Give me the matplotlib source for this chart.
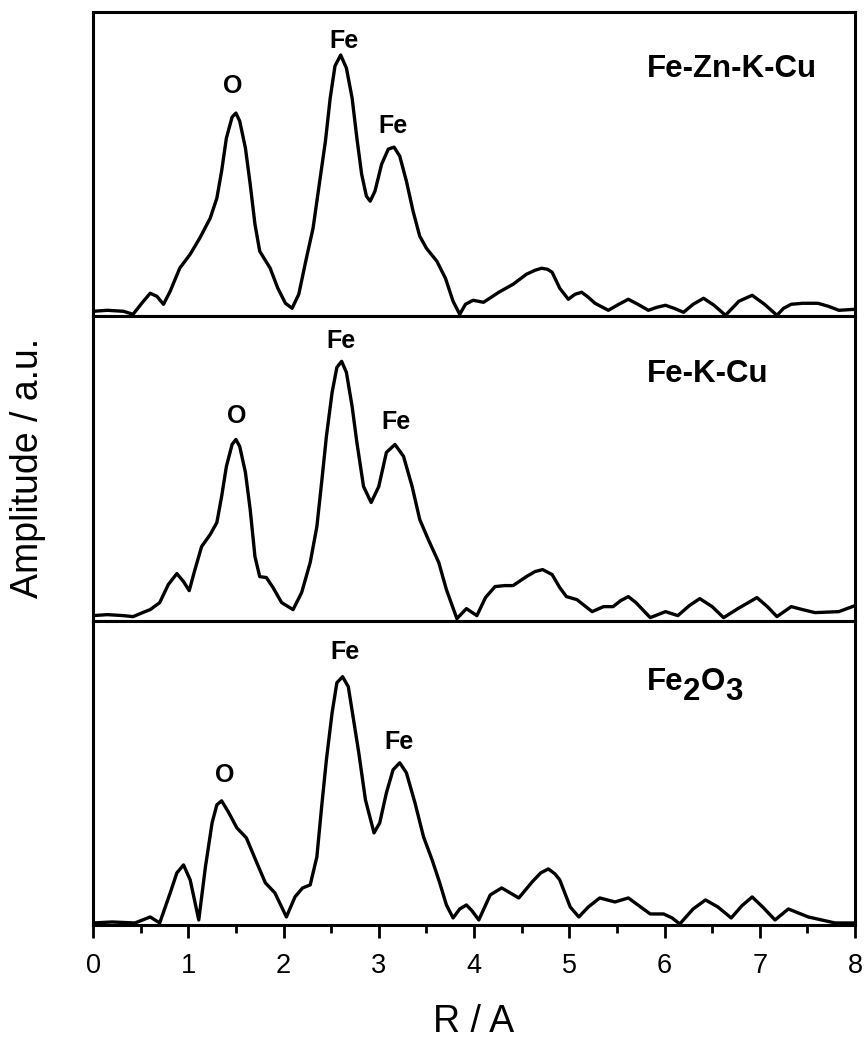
import matplotlib
matplotlib.use("Agg")
import matplotlib.pyplot as plt
from matplotlib.ticker import MultipleLocator

plt.rcParams['font.family'] = ['Liberation Sans', 'DejaVu Sans']

# Fourier transformed EXAFS amplitudes, R in Angstrom, amplitude in a.u.
r_znkcu = [0.00, 0.15, 0.32, 0.42, 0.52, 0.60, 0.67, 0.74, 0.81, 0.91, 1.02, 1.12, 1.23, 1.30,
           1.35, 1.40, 1.46, 1.50, 1.54, 1.60, 1.65, 1.70, 1.75, 1.86, 1.94, 2.02, 2.09, 2.16,
           2.24, 2.31, 2.38, 2.44, 2.49, 2.54, 2.60, 2.66, 2.72, 2.77, 2.82, 2.87, 2.91, 2.96,
           3.03, 3.10, 3.16, 3.22, 3.29, 3.36, 3.43, 3.50, 3.61, 3.70, 3.78,
           3.85, 3.91, 3.99, 4.10, 4.18, 4.26, 4.41, 4.55, 4.64, 4.71, 4.77, 4.82, 4.90, 4.99,
           5.06, 5.13, 5.20, 5.27, 5.41, 5.52, 5.62, 5.72, 5.83, 5.92, 6.01, 6.10, 6.20, 6.30,
           6.41, 6.52, 6.64, 6.78, 6.92, 7.05, 7.18, 7.25, 7.33, 7.45, 7.61, 7.72, 7.83, 8.00]
amp_znkcu = [5, 6, 5, 2, 14, 23, 20, 12, 25, 48, 62, 78, 98, 118,
             145, 178, 199, 203, 195, 168, 132, 92, 65, 48, 28, 13, 8, 22,
             58, 88, 135, 175, 218, 250, 261, 248, 218, 178, 142, 120, 115, 125,
             152, 167, 169, 160, 135, 105, 80, 68, 55, 38, 15,
             2, 12, 16, 14, 19, 24, 32, 42, 46, 48, 47, 44, 28, 17,
             22, 24, 19, 13, 6, 12, 17, 12, 6, 9, 11, 8, 4, 12,
             18, 11, 1, 15, 21, 12, 1, 8, 12, 13, 13, 10, 6, 7]

r_kcu = [0.00, 0.15, 0.32, 0.42, 0.52, 0.60, 0.70, 0.79, 0.88, 0.95, 1.01, 1.07, 1.14, 1.23,
         1.30, 1.35, 1.40, 1.46, 1.50, 1.54, 1.60, 1.65, 1.70, 1.75, 1.82, 1.89, 1.98, 2.10,
         2.19, 2.28, 2.35, 2.40, 2.45, 2.51, 2.56, 2.61, 2.66, 2.72, 2.77, 2.84, 2.92, 3.00,
         3.08, 3.17, 3.26, 3.35, 3.43, 3.52, 3.63, 3.71,
         3.82, 3.92, 4.03, 4.12, 4.22, 4.32, 4.41, 4.55, 4.64, 4.72, 4.82, 4.90, 4.97, 5.08,
         5.16, 5.24, 5.36, 5.46, 5.54, 5.62, 5.70, 5.85, 6.01, 6.14, 6.26, 6.37, 6.50, 6.62,
         6.77, 6.97, 7.08, 7.18, 7.33, 7.45, 7.58, 7.83, 8.00]
amp_kcu = [5, 6, 5, 4, 8, 11, 18, 36, 47, 39, 30, 51, 74, 86,
           98, 124, 154, 176, 181, 174, 148, 111, 64, 44, 43, 33, 18, 11,
           28, 58, 94, 138, 184, 228, 253, 259, 248, 214, 178, 134, 118, 134,
           168, 176, 164, 134, 101, 81, 58, 31,
           2, 12, 5, 23, 34, 35, 35, 44, 49, 51, 46, 33, 24, 21,
           15, 9, 14, 14, 20, 24, 18, 3, 9, 5, 15, 22, 14, 3,
           12, 23, 14, 4, 14, 11, 8, 9, 15]

r_fe2o3 = [0.00, 0.20, 0.44, 0.60, 0.70, 0.81, 0.88, 0.95, 1.02, 1.11, 1.18, 1.25, 1.30, 1.35,
           1.42, 1.51, 1.61, 1.72, 1.81, 1.91, 2.03, 2.12, 2.20, 2.28, 2.35, 2.40, 2.45, 2.51,
           2.56, 2.62, 2.68, 2.73, 2.79, 2.86, 2.95, 3.01, 3.08, 3.15, 3.22, 3.29, 3.38, 3.47,
           3.56, 3.64, 3.71,
           3.78, 3.85, 3.92, 3.98, 4.05, 4.17, 4.29, 4.38, 4.47, 4.61, 4.70, 4.78, 4.85, 4.90,
           5.01, 5.10, 5.20, 5.32, 5.48, 5.62, 5.72, 5.85, 5.99, 6.08, 6.16, 6.30, 6.43, 6.56,
           6.70, 6.81, 6.92, 7.03, 7.16, 7.30, 7.51, 7.79, 8.00]
amp_fe2o3 = [2, 3, 2, 8, 2, 32, 52, 60, 45, 5, 58, 102, 120, 124,
             113, 97, 87, 62, 42, 32, 8, 28, 37, 40, 68, 118, 165, 212,
             242, 248, 238, 208, 172, 125, 92, 102, 132, 155, 162, 152, 122, 88,
             65, 42, 20,
             7, 16, 20, 14, 5, 30, 37, 32, 27, 43, 52, 56, 51, 45,
             18, 8, 18, 27, 23, 27, 20, 11, 11, 7, 1, 16, 25, 18,
             7, 19, 28, 18, 5, 16, 8, 2, 2]

# peak labels: (R, amplitude, text)
peaks_znkcu = [(1.47, 230, 'O'), (2.63, 275, 'Fe'), (3.15, 190, 'Fe')]
peaks_kcu = [(1.51, 204, 'O'), (2.60, 279, 'Fe'), (3.18, 198, 'Fe')]
peaks_fe2o3 = [(1.38, 150, 'O'), (2.65, 273, 'Fe'), (3.21, 183, 'Fe')]

fig, axes = plt.subplots(3, 1, figsize=(8.67, 10.4), dpi=100, sharex=True)
fig.subplots_adjust(left=0.1073, right=0.9862, bottom=0.1106, top=0.9885, hspace=0)

panels = [(r_znkcu, amp_znkcu, peaks_znkcu),
          (r_kcu, amp_kcu, peaks_kcu),
          (r_fe2o3, amp_fe2o3, peaks_fe2o3)]

for ax, (r, amp, peaks) in zip(axes, panels):
    ax.plot(r, amp, color='black', lw=2.4, solid_joinstyle='round')
    ax.set_xlim(0, 8)
    ax.set_ylim(0, 304)
    ax.set_yticks([])
    for s in ax.spines.values():
        s.set_linewidth(2.2)
    ax.xaxis.set_major_locator(MultipleLocator(1))
    ax.xaxis.set_minor_locator(MultipleLocator(0.5))
    ax.tick_params(axis='x', which='major', direction='out', length=9.5, width=2,
                   labelsize=19.5, pad=11)
    ax.tick_params(axis='x', which='minor', direction='out', length=6, width=2)
    ax.tick_params(axis='x', top=False)
    for x, y, lab in peaks:
        ax.text(x, y, lab, ha='center', va='center', fontsize=18, fontweight='bold')

axes[0].text(5.81, 247, 'Fe-Zn-K-Cu', ha='left', va='center', fontsize=22.5, fontweight='bold')
axes[1].text(5.81, 246, 'Fe-K-Cu', ha='left', va='center', fontsize=22.5, fontweight='bold')

# Fe2O3 with full-size lowered subscripts
t = axes[2].text(5.81, 243, 'Fe', ha='left', va='center', fontsize=22.5, fontweight='bold')
prev = t
for piece, dy in [('2', -7.5), ('O', 7.5), ('3', -7.5)]:
    prev = axes[2].annotate(piece, xy=(1, 0), xycoords=prev, xytext=(0, dy),
                            textcoords='offset points', ha='left', va='bottom',
                            fontsize=22.5, fontweight='bold')

axes[2].set_xlabel('R / A', fontsize=27, labelpad=18)
fig.text(0.032, 0.55, 'Amplitude / a.u.', rotation=90, ha='center', va='center', fontsize=27)

fig.savefig('out.png', dpi=100)
